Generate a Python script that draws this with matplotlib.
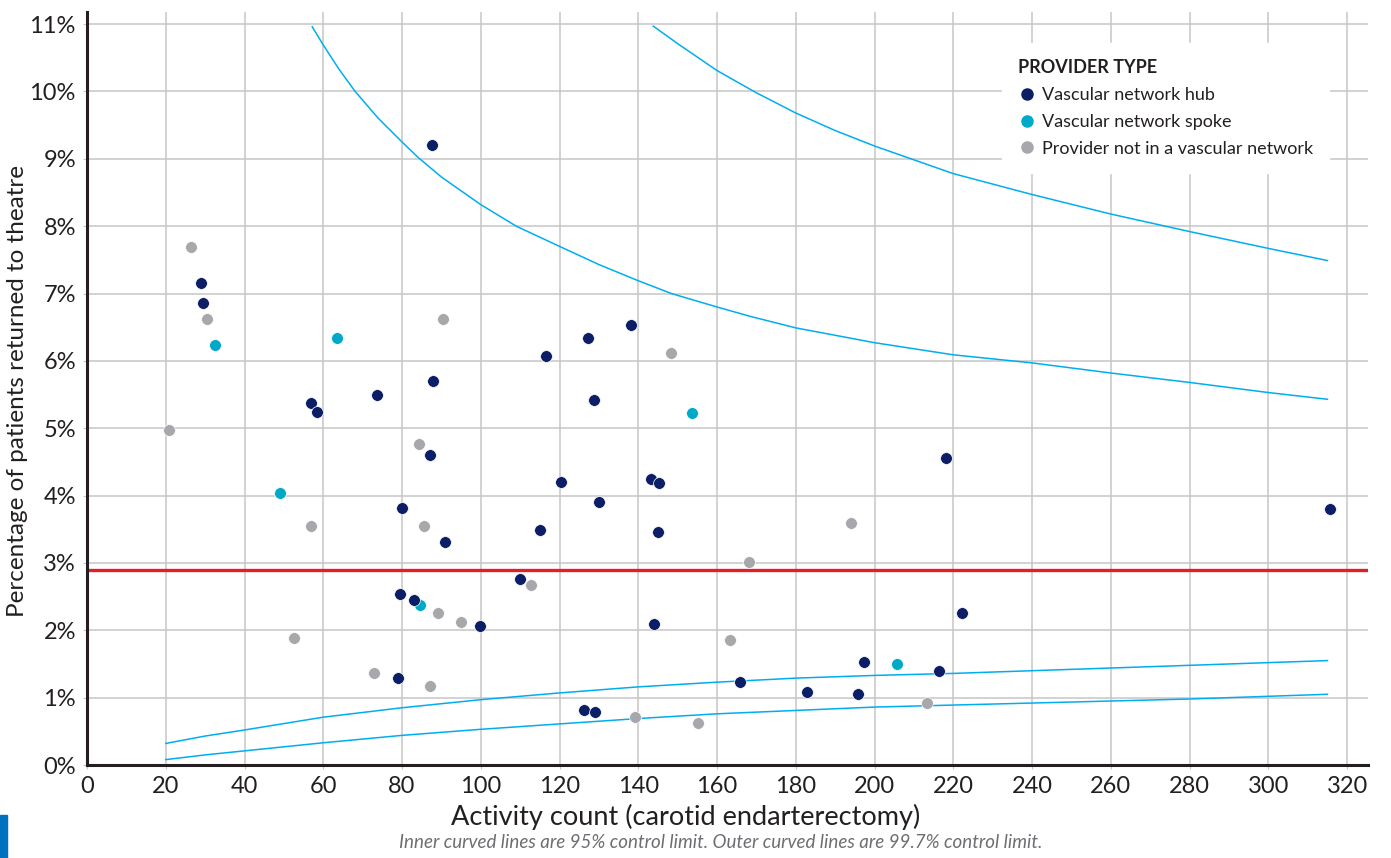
import matplotlib
matplotlib.use("Agg")
import matplotlib.pyplot as plt
from matplotlib.lines import Line2D
from matplotlib.patches import Rectangle

plt.rcParams['font.family'] = ['Lato', 'DejaVu Sans']

# provider points: activity count vs % returned to theatre
hub_x = [87.6, 28.9, 29.4, 56.9, 58.3, 73.6, 87.8, 87.0, 80.0, 90.9, 116.6, 127.3,
         138.1, 128.8, 120.3, 115.1, 129.9, 143.1, 145.3, 145.0, 109.9, 79.4, 83.0,
         99.9, 78.9, 143.9, 126.2, 129.0, 165.9, 182.9, 195.8, 197.3, 216.4, 218.2,
         222.3, 315.7]
hub_y = [9.2, 7.16, 6.86, 5.37, 5.24, 5.49, 5.70, 4.61, 3.82, 3.31, 6.07, 6.34,
         6.54, 5.42, 4.20, 3.49, 3.90, 4.24, 4.19, 3.46, 2.76, 2.54, 2.45,
         2.06, 1.29, 2.10, 0.82, 0.79, 1.23, 1.08, 1.06, 1.53, 1.40, 4.56,
         2.26, 3.80]

spoke_x = [32.5, 63.5, 49.1, 84.5, 153.6, 205.7]
spoke_y = [6.23, 6.34, 4.04, 2.37, 5.23, 1.50]

other_x = [26.4, 30.4, 90.5, 20.8, 84.3, 56.8, 85.6, 148.3, 112.7, 89.1, 95.1,
           52.5, 72.8, 87.1, 163.3, 168.1, 194.1, 213.3, 139.1, 155.2]
other_y = [7.69, 6.62, 6.62, 4.97, 4.77, 3.55, 3.55, 6.11, 2.67, 2.26, 2.13,
           1.89, 1.37, 1.17, 1.86, 3.02, 3.60, 0.92, 0.71, 0.63]

national_rate = 2.9

# control limits
upper95_x = [57.2, 60, 64, 68.1, 74, 80, 84.1, 90, 100, 109, 120, 130, 140, 148.4,
             160, 168.5, 180, 200, 220, 240, 260, 280, 300, 315]
upper95_y = [10.96, 10.69, 10.33, 10.0, 9.6, 9.25, 9.02, 8.73, 8.32, 8.0, 7.70, 7.43,
             7.19, 7.0, 6.80, 6.66, 6.49, 6.27, 6.09, 5.97, 5.82, 5.68, 5.53, 5.43]
upper997_x = [143.8, 150, 160, 170, 180, 190, 200, 220, 240, 260, 280, 300, 315]
upper997_y = [10.97, 10.71, 10.31, 9.98, 9.68, 9.42, 9.19, 8.78, 8.47, 8.18, 7.92,
              7.67, 7.49]
lower_x = [20, 30, 40, 60, 80, 100, 120, 140, 160, 180, 200, 220, 240, 260, 280,
           300, 315]
lower95_y = [0.32, 0.43, 0.52, 0.71, 0.85, 0.97, 1.07, 1.16, 1.23, 1.29, 1.33, 1.36,
             1.40, 1.44, 1.48, 1.52, 1.55]
lower997_y = [0.08, 0.15, 0.21, 0.33, 0.44, 0.53, 0.61, 0.69, 0.76, 0.81, 0.86, 0.89,
              0.92, 0.95, 0.98, 1.02, 1.05]

x_ticks = list(range(0, 321, 20))
y_ticks = list(range(0, 12))

HUB = '#0c1f66'
SPOKE = '#00a9c8'
OTHER = '#a7a8ac'
LIMIT = '#00aeef'
RED = '#e31e24'
GRID = '#c6c6c8'
TXT = '#231f20'

fig = plt.figure(figsize=(13.91, 8.58), dpi=100)
ax = fig.add_axes([87/1391, 1 - 765/858, (1368 - 87)/1391, (765 - 12)/858])

ax.set_xlim(0, 325.3)
ax.set_ylim(0, 11.18)
ax.set_xticks(x_ticks)
ax.set_yticks(y_ticks)
ax.set_yticklabels(['%d%%' % v for v in y_ticks])
ax.grid(True, color=GRID, lw=1.1, zorder=0)
ax.set_axisbelow(True)

for s in ['top', 'right']:
    ax.spines[s].set_visible(False)
for s in ['left', 'bottom']:
    ax.spines[s].set_color(TXT)
    ax.spines[s].set_linewidth(2.2)
ax.tick_params(length=3, color=GRID, labelsize=17, labelcolor=TXT, pad=5)

ax.axhline(national_rate, color=RED, lw=2.4, zorder=2)

ax.plot(upper95_x, upper95_y, color=LIMIT, lw=1.1, zorder=2)
ax.plot(upper997_x, upper997_y, color=LIMIT, lw=1.1, zorder=2)
ax.plot(lower_x, lower95_y, color=LIMIT, lw=1.1, zorder=2)
ax.plot(lower_x, lower997_y, color=LIMIT, lw=1.1, zorder=2)

ax.scatter(other_x, other_y, s=72, color=OTHER, edgecolor='white', linewidth=0.5, zorder=3)
ax.scatter(spoke_x, spoke_y, s=72, color=SPOKE, edgecolor='white', linewidth=0.5, zorder=3)
ax.scatter(hub_x, hub_y, s=72, color=HUB, edgecolor='white', linewidth=0.5, zorder=3)

ax.set_xlabel('Activity count (carotid endarterectomy)', fontsize=19.5, color=TXT)
ax.xaxis.set_label_coords(0.4676, -0.069)
ax.set_ylabel('Percentage of patients returned to theatre', fontsize=17.5, color=TXT)
ax.yaxis.set_label_coords(-0.0546, 0.497)
ax.xaxis.label.set_va('center')
ax.yaxis.label.set_va('center')

handles = [Line2D([], [], ls='none', marker='o', ms=8, color=c)
           for c in [HUB, SPOKE, OTHER]]
leg = ax.legend(handles, ['Vascular network hub', 'Vascular network spoke',
                          'Provider not in a vascular network'],
                title='PROVIDER TYPE', loc='upper left',
                bbox_to_anchor=((993 - 87)/1281, (765 - 34)/753),
                frameon=True, fancybox=False, framealpha=1, edgecolor='white',
                fontsize=13, title_fontsize=13, handletextpad=0.3,
                handlelength=1.0, labelspacing=0.6, borderpad=0.9,
                alignment='left')
leg.get_title().set_fontweight('bold')
leg.get_title().set_color(TXT)
for t in leg.get_texts():
    t.set_color(TXT)
leg.set_zorder(5)

fig.patches.append(Rectangle((0, 0), 7/1391, 43/858, transform=fig.transFigure,
                             color='#0070c0', figure=fig))
fig.text(0.518, 0.008, 'Inner curved lines are 95% control limit. '
         'Outer curved lines are 99.7% control limit.',
         ha='center', va='bottom', fontsize=13.5, style='italic', color='#6d6e71')

fig.savefig('out.png', dpi=100)
